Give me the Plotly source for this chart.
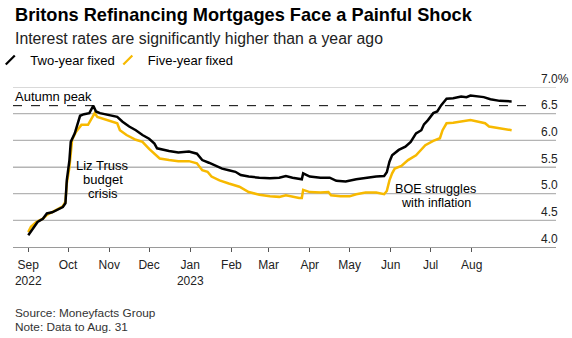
import plotly.graph_objects as go

# ---- Data ----
two_year_dates = [
    "2022-09-01", "2022-09-05", "2022-09-08", "2022-09-12", "2022-09-15", "2022-09-19",
    "2022-09-22", "2022-09-25", "2022-09-27", "2022-09-29", "2022-09-30", "2022-10-02",
    "2022-10-03", "2022-10-06", "2022-10-08", "2022-10-10", "2022-10-13", "2022-10-17",
    "2022-10-20", "2022-10-22", "2022-10-25", "2022-10-30", "2022-11-07", "2022-11-11",
    "2022-11-16", "2022-11-21", "2022-11-26", "2022-12-01", "2022-12-05", "2022-12-07",
    "2022-12-10", "2022-12-16", "2022-12-23", "2022-12-31", "2023-01-06", "2023-01-10",
    "2023-01-15", "2023-01-20", "2023-01-25", "2023-01-30", "2023-02-04", "2023-02-08",
    "2023-02-14", "2023-02-22", "2023-03-02", "2023-03-09", "2023-03-14", "2023-03-19",
    "2023-03-24", "2023-03-26", "2023-03-27", "2023-04-01", "2023-04-09", "2023-04-16",
    "2023-04-21", "2023-04-28", "2023-05-06", "2023-05-13", "2023-05-21", "2023-05-27",
    "2023-05-29", "2023-05-31", "2023-06-02", "2023-06-07", "2023-06-12", "2023-06-16",
    "2023-06-20", "2023-06-24", "2023-06-26", "2023-06-29", "2023-07-03", "2023-07-06",
    "2023-07-09", "2023-07-13", "2023-07-18", "2023-07-24", "2023-07-28", "2023-07-31",
    "2023-08-05", "2023-08-10", "2023-08-15", "2023-08-22", "2023-08-31",
]
two_year_rates = [
    4.22, 4.35, 4.47, 4.53, 4.63, 4.65,
    4.69, 4.72, 4.75, 4.82, 5.25, 5.63,
    5.97, 6.13, 6.32, 6.46, 6.49, 6.51,
    6.65, 6.54, 6.51, 6.48, 6.44, 6.35,
    6.26, 6.19, 6.10, 6.03, 5.94, 5.85,
    5.83, 5.80, 5.77, 5.79, 5.75, 5.63,
    5.58, 5.52, 5.47, 5.44, 5.41, 5.35,
    5.32, 5.30, 5.29, 5.30, 5.33, 5.30,
    5.27, 5.27, 5.38, 5.32, 5.30, 5.30,
    5.24, 5.23, 5.27, 5.30, 5.32, 5.33,
    5.40, 5.60, 5.72, 5.82, 5.88, 5.97,
    6.13, 6.19, 6.30, 6.38, 6.51, 6.54,
    6.66, 6.78, 6.79, 6.82, 6.81, 6.84,
    6.83, 6.81, 6.77, 6.74, 6.73,
]

five_year_dates = [
    "2022-09-01", "2022-09-03", "2022-09-07", "2022-09-12", "2022-09-15", "2022-09-19",
    "2022-09-22", "2022-09-27", "2022-09-29", "2022-09-30", "2022-10-02", "2022-10-04",
    "2022-10-07", "2022-10-11", "2022-10-16", "2022-10-18", "2022-10-21", "2022-10-23",
    "2022-10-30", "2022-11-07", "2022-11-09", "2022-11-14", "2022-11-21", "2022-11-26",
    "2022-12-01", "2022-12-05", "2022-12-09", "2022-12-16", "2022-12-23", "2022-12-31",
    "2023-01-06", "2023-01-10", "2023-01-14", "2023-01-17", "2023-01-23", "2023-01-30",
    "2023-02-07", "2023-02-14", "2023-02-22", "2023-03-02", "2023-03-09", "2023-03-14",
    "2023-03-19", "2023-03-24", "2023-03-26", "2023-03-27", "2023-04-01", "2023-04-09",
    "2023-04-15", "2023-04-17", "2023-04-24", "2023-05-01", "2023-05-06", "2023-05-13",
    "2023-05-21", "2023-05-27", "2023-05-29", "2023-05-31", "2023-06-02", "2023-06-04",
    "2023-06-09", "2023-06-14", "2023-06-20", "2023-06-24", "2023-06-27", "2023-07-03",
    "2023-07-08", "2023-07-10", "2023-07-13", "2023-07-18", "2023-07-25", "2023-07-31",
    "2023-08-06", "2023-08-11", "2023-08-14", "2023-08-22", "2023-08-31",
]
five_year_rates = [
    4.28, 4.38, 4.47, 4.53, 4.60, 4.65,
    4.69, 4.76, 4.85, 5.19, 5.50, 6.01,
    6.16, 6.29, 6.29, 6.38, 6.51, 6.44,
    6.38, 6.32, 6.19, 6.10, 6.01, 5.97,
    5.84, 5.75, 5.66, 5.63, 5.61, 5.61,
    5.57, 5.44, 5.41, 5.32, 5.25, 5.19,
    5.13, 5.03, 4.98, 4.95, 4.94, 4.97,
    4.94, 4.92, 4.92, 5.07, 5.03, 5.02,
    5.03, 4.97, 4.95, 4.95, 4.99, 5.02,
    5.02, 4.99, 5.05, 5.25, 5.38, 5.47,
    5.52, 5.63, 5.72, 5.82, 5.91, 5.99,
    6.04, 6.19, 6.32, 6.33, 6.35, 6.38,
    6.35, 6.32, 6.26, 6.23, 6.19,
]

month_ticks = ["2022-09-01", "2022-10-01", "2022-11-01", "2022-12-01", "2023-01-01", "2023-02-01",
               "2023-03-01", "2023-04-01", "2023-05-01", "2023-06-01", "2023-07-01", "2023-08-01"]
month_labels = ["Sep<br>2022", "Oct", "Nov", "Dec", "Jan<br>2023", "Feb",
                "Mar", "Apr", "May", "Jun", "Jul", "Aug"]
y_ticks = [4.0, 4.5, 5.0, 5.5, 6.0, 6.5, 7.0]
y_labels = ["4.0", "4.5", "5.0", "5.5", "6.0", "6.5", "7.0%"]

BLACK = "#000000"
YELLOW = "#F7B900"
GRID = "#b4b4b4"
FONT = "Liberation Sans, Arial, sans-serif"

W, H = 572, 338
ML, MR, MT, MB = 13, 16, 87, 91
plot_h = H - MT - MB
plot_w = W - ML - MR

def py(Y):
    """pixel row -> paper y"""
    return (H - MB - Y) / plot_h

peak = max(r for d, r in zip(two_year_dates, two_year_rates) if d < "2023-01-01")
x_range = ["2022-08-20 12:00", "2023-10-03 10:00"]

# horizontal gridlines built from the y tick values, spanning the axis range
grid_x, grid_y = [], []
for yv in y_ticks[1:]:
    grid_x += [x_range[0], x_range[1], None]
    grid_y += [yv, yv, None]

fig = go.Figure()
fig.add_trace(go.Scatter(x=grid_x, y=grid_y, mode="lines", showlegend=False,
                         line=dict(color=GRID, width=1.2), hoverinfo="skip",
                         connectgaps=False, cliponaxis=False))
fig.add_trace(go.Scatter(x=five_year_dates, y=five_year_rates, mode="lines",
                         line=dict(color=YELLOW, width=2.5), showlegend=False,
                         hoverinfo="skip"))
fig.add_trace(go.Scatter(x=two_year_dates, y=two_year_rates, mode="lines",
                         line=dict(color=BLACK, width=2.5), showlegend=False,
                         hoverinfo="skip"))
# legend entries with slash icons
fig.add_trace(go.Scatter(x=[None], y=[None], mode="markers", name="Two-year fixed",
                         marker=dict(symbol="line-ne", size=9,
                                     line=dict(color=BLACK, width=2.2))))
fig.add_trace(go.Scatter(x=[None], y=[None], mode="markers", name="Five-year fixed",
                         marker=dict(symbol="line-ne", size=9,
                                     line=dict(color=YELLOW, width=2.2))))
# label-only axis trace (invisible) so yaxis2 is drawn
fig.add_trace(go.Scatter(x=[None], y=[None], yaxis="y2", showlegend=False,
                         hoverinfo="skip"))

fig.add_shape(type="line", xref="x", yref="y", x0=x_range[0], x1="2023-09-11",
              y0=peak, y1=peak, line=dict(color=BLACK, width=1, dash="dash"))

ann = []
ann.append(dict(text="<b>Britons Refinancing Mortgages Face a Painful Shock</b>",
                xref="paper", yref="paper", x=0, y=py(14.5), xanchor="left", yanchor="middle",
                showarrow=False, font=dict(size=18.2, color="#000000", family=FONT)))
ann.append(dict(text="Interest rates are significantly higher than a year ago",
                xref="paper", yref="paper", x=0, y=py(38.5), xanchor="left", yanchor="middle",
                showarrow=False, font=dict(size=15.8, color="#222222", family=FONT)))
ann.append(dict(text="Autumn peak", xref="paper", yref="y", x=0, y=peak,
                xanchor="left", yanchor="bottom", yshift=0, showarrow=False,
                font=dict(size=13, color="#000000", family=FONT)))
for txt, yv in [("Liz Truss", 5.52), ("budget", 5.27), ("crisis", 5.00)]:
    ann.append(dict(text=txt, xref="x", yref="y", x="2022-10-27", y=yv,
                    xanchor="center", yanchor="middle", showarrow=False,
                    font=dict(size=13, color="#000000", family=FONT)))
for txt, yv in [("BOE struggles", 5.08), ("with inflation", 4.82)]:
    ann.append(dict(text=txt, xref="x", yref="y", x="2023-07-05", y=yv,
                    xanchor="center", yanchor="middle", showarrow=False,
                    font=dict(size=12.6, color="#000000", family=FONT)))
ann.append(dict(text="Source: Moneyfacts Group", xref="paper", yref="paper",
                x=0, y=py(313), xanchor="left", yanchor="middle", showarrow=False,
                font=dict(size=11.8, color="#333333", family=FONT)))
ann.append(dict(text="Note: Data to Aug. 31", xref="paper", yref="paper",
                x=0, y=py(327), xanchor="left", yanchor="middle", showarrow=False,
                font=dict(size=11.8, color="#333333", family=FONT)))

fig.update_layout(
    width=W, height=H,
    margin=dict(l=ML, r=MR, t=MT, b=MB, pad=0, autoexpand=False),
    paper_bgcolor="white", plot_bgcolor="white",
    font=dict(family=FONT, size=12, color="#222222"),
    annotations=ann,
    showlegend=True,
    legend=dict(orientation="h", xref="container", x=0.004, y=py(60),
                xanchor="left", yanchor="middle", indentation=-12,
                font=dict(size=13, color="#000000", family=FONT),
                itemwidth=30, bgcolor="rgba(0,0,0,0)"),
    xaxis=dict(type="date", range=x_range, tickvals=month_ticks, ticktext=month_labels,
               showgrid=False, showline=True, linecolor="#9a9a9a", linewidth=1,
               ticks="outside", ticklen=4, tickcolor="#555555", tickwidth=1,
               ticklabelstandoff=3,
               tickfont=dict(size=12, color="#222222"), zeroline=False,
               fixedrange=True),
    yaxis=dict(range=[4.0, 7.0], tickmode="array", tickvals=y_ticks,
               ticktext=y_labels, showticklabels=False,
               side="right", ticks="", showline=False,
               showgrid=True, gridcolor=GRID, gridwidth=1, zeroline=False,
               fixedrange=True),
    yaxis2=dict(range=[4.0, 7.0], tickmode="array", tickvals=y_ticks, ticktext=y_labels,
                overlaying="y", side="right", anchor="free",
                position=(540 - ML) / plot_w,
                ticklabelposition="outside top", ticks="", showline=False,
                showgrid=False, zeroline=False,
                tickfont=dict(size=12, color="#222222"), fixedrange=True),
)

fig.write_html("out.html")
